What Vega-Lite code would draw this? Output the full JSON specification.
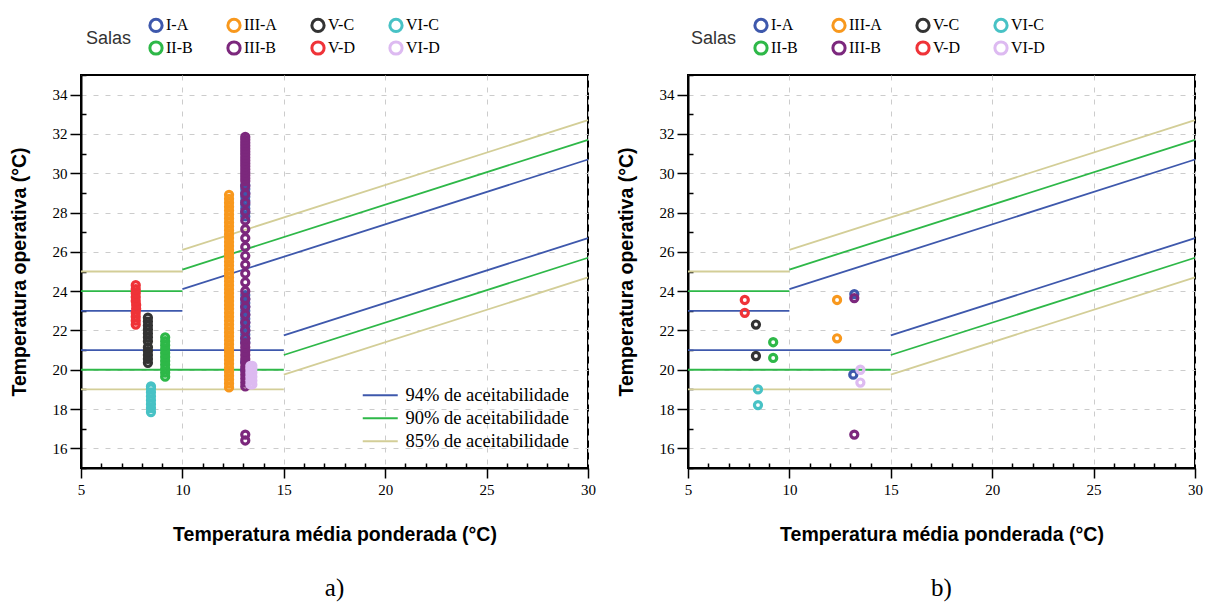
{
  "$schema": "https://vega.github.io/schema/vega-lite/v6.json",
  "padding": {"left": 8, "top": 16, "right": 5, "bottom": 0},
  "background": "white",
  "datasets": {
    "lines": [
      {"series": "94% de aceitabilidade", "seg": "94u1", "x": 5, "y": 23},
      {"series": "94% de aceitabilidade", "seg": "94u1", "x": 10, "y": 23},
      {"series": "94% de aceitabilidade", "seg": "94u2", "x": 10, "y": 24.1},
      {"series": "94% de aceitabilidade", "seg": "94u2", "x": 30, "y": 30.7},
      {"series": "94% de aceitabilidade", "seg": "94l1", "x": 5, "y": 21},
      {"series": "94% de aceitabilidade", "seg": "94l1", "x": 15, "y": 21},
      {"series": "94% de aceitabilidade", "seg": "94l2", "x": 15, "y": 21.75},
      {"series": "94% de aceitabilidade", "seg": "94l2", "x": 30, "y": 26.7},
      {"series": "90% de aceitabilidade", "seg": "90u1", "x": 5, "y": 24},
      {"series": "90% de aceitabilidade", "seg": "90u1", "x": 10, "y": 24},
      {"series": "90% de aceitabilidade", "seg": "90u2", "x": 10, "y": 25.1},
      {"series": "90% de aceitabilidade", "seg": "90u2", "x": 30, "y": 31.7},
      {"series": "90% de aceitabilidade", "seg": "90l1", "x": 5, "y": 20},
      {"series": "90% de aceitabilidade", "seg": "90l1", "x": 15, "y": 20},
      {"series": "90% de aceitabilidade", "seg": "90l2", "x": 15, "y": 20.75},
      {"series": "90% de aceitabilidade", "seg": "90l2", "x": 30, "y": 25.7},
      {"series": "85% de aceitabilidade", "seg": "85u1", "x": 5, "y": 25},
      {"series": "85% de aceitabilidade", "seg": "85u1", "x": 10, "y": 25},
      {"series": "85% de aceitabilidade", "seg": "85u2", "x": 10, "y": 26.1},
      {"series": "85% de aceitabilidade", "seg": "85u2", "x": 30, "y": 32.7},
      {"series": "85% de aceitabilidade", "seg": "85l1", "x": 5, "y": 19},
      {"series": "85% de aceitabilidade", "seg": "85l1", "x": 15, "y": 19},
      {"series": "85% de aceitabilidade", "seg": "85l2", "x": 15, "y": 19.75},
      {"series": "85% de aceitabilidade", "seg": "85l2", "x": 30, "y": 24.7}
    ],
    "pa": [
      {"sala": "I-A", "x": 13.1, "y": 20.0}, {"sala": "I-A", "x": 13.1, "y": 20.4},
      {"sala": "I-A", "x": 13.1, "y": 21.4}, {"sala": "I-A", "x": 13.1, "y": 21.6}, {"sala": "I-A", "x": 13.1, "y": 21.8},
      {"sala": "I-A", "x": 13.1, "y": 22.0}, {"sala": "I-A", "x": 13.1, "y": 22.2}, {"sala": "I-A", "x": 13.1, "y": 22.4},
      {"sala": "I-A", "x": 13.1, "y": 22.6}, {"sala": "I-A", "x": 13.1, "y": 22.8}, {"sala": "I-A", "x": 13.1, "y": 23.0},
      {"sala": "I-A", "x": 13.1, "y": 23.2}, {"sala": "I-A", "x": 13.1, "y": 23.4}, {"sala": "I-A", "x": 13.1, "y": 23.6},
      {"sala": "I-A", "x": 13.1, "y": 23.8}, {"sala": "I-A", "x": 13.1, "y": 27.8}, {"sala": "I-A", "x": 13.1, "y": 28.0},
      {"sala": "I-A", "x": 13.1, "y": 28.2}, {"sala": "I-A", "x": 13.1, "y": 28.4}, {"sala": "I-A", "x": 13.1, "y": 28.6},
      {"sala": "I-A", "x": 13.1, "y": 28.8}, {"sala": "I-A", "x": 13.1, "y": 29.0}, {"sala": "I-A", "x": 13.1, "y": 29.2},
      {"sala": "I-A", "x": 13.1, "y": 29.4},
      {"sala": "II-B", "x": 9.15, "y": 19.65}, {"sala": "II-B", "x": 9.15, "y": 19.85}, {"sala": "II-B", "x": 9.15, "y": 20.05},
      {"sala": "II-B", "x": 9.15, "y": 20.25}, {"sala": "II-B", "x": 9.15, "y": 20.45}, {"sala": "II-B", "x": 9.15, "y": 20.65},
      {"sala": "II-B", "x": 9.15, "y": 20.85}, {"sala": "II-B", "x": 9.15, "y": 21.05}, {"sala": "II-B", "x": 9.15, "y": 21.25},
      {"sala": "II-B", "x": 9.15, "y": 21.45}, {"sala": "II-B", "x": 9.15, "y": 21.65},
      {"sala": "III-A", "x": 12.3, "y": 19.1}, {"sala": "III-A", "x": 12.3, "y": 19.3}, {"sala": "III-A", "x": 12.3, "y": 19.5},
      {"sala": "III-A", "x": 12.3, "y": 19.7}, {"sala": "III-A", "x": 12.3, "y": 19.9}, {"sala": "III-A", "x": 12.3, "y": 20.1},
      {"sala": "III-A", "x": 12.3, "y": 20.3}, {"sala": "III-A", "x": 12.3, "y": 20.5}, {"sala": "III-A", "x": 12.3, "y": 20.7},
      {"sala": "III-A", "x": 12.3, "y": 20.9}, {"sala": "III-A", "x": 12.3, "y": 21.1}, {"sala": "III-A", "x": 12.3, "y": 21.3},
      {"sala": "III-A", "x": 12.3, "y": 21.5}, {"sala": "III-A", "x": 12.3, "y": 21.7}, {"sala": "III-A", "x": 12.3, "y": 21.9},
      {"sala": "III-A", "x": 12.3, "y": 22.1}, {"sala": "III-A", "x": 12.3, "y": 22.3}, {"sala": "III-A", "x": 12.3, "y": 22.5},
      {"sala": "III-A", "x": 12.3, "y": 22.7}, {"sala": "III-A", "x": 12.3, "y": 22.9}, {"sala": "III-A", "x": 12.3, "y": 23.1},
      {"sala": "III-A", "x": 12.3, "y": 23.3}, {"sala": "III-A", "x": 12.3, "y": 23.5}, {"sala": "III-A", "x": 12.3, "y": 23.7},
      {"sala": "III-A", "x": 12.3, "y": 23.9}, {"sala": "III-A", "x": 12.3, "y": 24.1}, {"sala": "III-A", "x": 12.3, "y": 24.3},
      {"sala": "III-A", "x": 12.3, "y": 24.5}, {"sala": "III-A", "x": 12.3, "y": 24.7}, {"sala": "III-A", "x": 12.3, "y": 24.9},
      {"sala": "III-A", "x": 12.3, "y": 25.1}, {"sala": "III-A", "x": 12.3, "y": 25.3}, {"sala": "III-A", "x": 12.3, "y": 25.5},
      {"sala": "III-A", "x": 12.3, "y": 25.7}, {"sala": "III-A", "x": 12.3, "y": 25.9}, {"sala": "III-A", "x": 12.3, "y": 26.1},
      {"sala": "III-A", "x": 12.3, "y": 26.3}, {"sala": "III-A", "x": 12.3, "y": 26.5}, {"sala": "III-A", "x": 12.3, "y": 26.7},
      {"sala": "III-A", "x": 12.3, "y": 26.9}, {"sala": "III-A", "x": 12.3, "y": 27.1}, {"sala": "III-A", "x": 12.3, "y": 27.3},
      {"sala": "III-A", "x": 12.3, "y": 27.5}, {"sala": "III-A", "x": 12.3, "y": 27.7}, {"sala": "III-A", "x": 12.3, "y": 27.9},
      {"sala": "III-A", "x": 12.3, "y": 28.1}, {"sala": "III-A", "x": 12.3, "y": 28.3}, {"sala": "III-A", "x": 12.3, "y": 28.5},
      {"sala": "III-A", "x": 12.3, "y": 28.7}, {"sala": "III-A", "x": 12.3, "y": 28.9},
      {"sala": "III-B", "x": 13.1, "y": 16.4}, {"sala": "III-B", "x": 13.1, "y": 16.7},
      {"sala": "III-B", "x": 13.1, "y": 19.15}, {"sala": "III-B", "x": 13.1, "y": 19.35}, {"sala": "III-B", "x": 13.1, "y": 19.55},
      {"sala": "III-B", "x": 13.1, "y": 19.75}, {"sala": "III-B", "x": 13.1, "y": 19.95}, {"sala": "III-B", "x": 13.1, "y": 20.15},
      {"sala": "III-B", "x": 13.1, "y": 20.35}, {"sala": "III-B", "x": 13.1, "y": 20.55}, {"sala": "III-B", "x": 13.1, "y": 20.75},
      {"sala": "III-B", "x": 13.1, "y": 20.95}, {"sala": "III-B", "x": 13.1, "y": 21.15}, {"sala": "III-B", "x": 13.1, "y": 21.35},
      {"sala": "III-B", "x": 13.1, "y": 21.6}, {"sala": "III-B", "x": 13.1, "y": 22.0}, {"sala": "III-B", "x": 13.1, "y": 22.4},
      {"sala": "III-B", "x": 13.1, "y": 22.8}, {"sala": "III-B", "x": 13.1, "y": 23.2}, {"sala": "III-B", "x": 13.1, "y": 23.6},
      {"sala": "III-B", "x": 13.1, "y": 24.0}, {"sala": "III-B", "x": 13.1, "y": 24.45}, {"sala": "III-B", "x": 13.1, "y": 24.9},
      {"sala": "III-B", "x": 13.1, "y": 25.35}, {"sala": "III-B", "x": 13.1, "y": 25.8}, {"sala": "III-B", "x": 13.1, "y": 26.25},
      {"sala": "III-B", "x": 13.1, "y": 26.7}, {"sala": "III-B", "x": 13.1, "y": 27.15}, {"sala": "III-B", "x": 13.1, "y": 27.6},
      {"sala": "III-B", "x": 13.1, "y": 28.05}, {"sala": "III-B", "x": 13.1, "y": 28.5}, {"sala": "III-B", "x": 13.1, "y": 28.95},
      {"sala": "III-B", "x": 13.1, "y": 29.35}, {"sala": "III-B", "x": 13.1, "y": 29.6}, {"sala": "III-B", "x": 13.1, "y": 29.75},
      {"sala": "III-B", "x": 13.1, "y": 29.9}, {"sala": "III-B", "x": 13.1, "y": 30.05}, {"sala": "III-B", "x": 13.1, "y": 30.2},
      {"sala": "III-B", "x": 13.1, "y": 30.35}, {"sala": "III-B", "x": 13.1, "y": 30.5}, {"sala": "III-B", "x": 13.1, "y": 30.65},
      {"sala": "III-B", "x": 13.1, "y": 30.8}, {"sala": "III-B", "x": 13.1, "y": 30.95}, {"sala": "III-B", "x": 13.1, "y": 31.1},
      {"sala": "III-B", "x": 13.1, "y": 31.25}, {"sala": "III-B", "x": 13.1, "y": 31.4}, {"sala": "III-B", "x": 13.1, "y": 31.55},
      {"sala": "III-B", "x": 13.1, "y": 31.7}, {"sala": "III-B", "x": 13.1, "y": 31.85},
      {"sala": "V-C", "x": 8.3, "y": 20.35}, {"sala": "V-C", "x": 8.3, "y": 20.55}, {"sala": "V-C", "x": 8.3, "y": 20.75},
      {"sala": "V-C", "x": 8.3, "y": 20.95}, {"sala": "V-C", "x": 8.3, "y": 21.15}, {"sala": "V-C", "x": 8.3, "y": 21.45},
      {"sala": "V-C", "x": 8.3, "y": 21.65}, {"sala": "V-C", "x": 8.3, "y": 21.85}, {"sala": "V-C", "x": 8.3, "y": 22.05},
      {"sala": "V-C", "x": 8.3, "y": 22.25}, {"sala": "V-C", "x": 8.3, "y": 22.45}, {"sala": "V-C", "x": 8.3, "y": 22.65},
      {"sala": "V-D", "x": 7.7, "y": 22.3}, {"sala": "V-D", "x": 7.7, "y": 22.5}, {"sala": "V-D", "x": 7.7, "y": 22.7},
      {"sala": "V-D", "x": 7.7, "y": 22.9}, {"sala": "V-D", "x": 7.72, "y": 23.1}, {"sala": "V-D", "x": 7.72, "y": 23.3},
      {"sala": "V-D", "x": 7.7, "y": 23.5}, {"sala": "V-D", "x": 7.7, "y": 23.7}, {"sala": "V-D", "x": 7.7, "y": 23.9},
      {"sala": "V-D", "x": 7.7, "y": 24.1}, {"sala": "V-D", "x": 7.7, "y": 24.3},
      {"sala": "VI-C", "x": 8.45, "y": 17.85}, {"sala": "VI-C", "x": 8.45, "y": 18.05}, {"sala": "VI-C", "x": 8.45, "y": 18.25},
      {"sala": "VI-C", "x": 8.45, "y": 18.45}, {"sala": "VI-C", "x": 8.45, "y": 18.65}, {"sala": "VI-C", "x": 8.45, "y": 18.85},
      {"sala": "VI-C", "x": 8.45, "y": 19.05}, {"sala": "VI-C", "x": 8.45, "y": 19.15},
      {"sala": "VI-D", "x": 13.35, "y": 19.25}, {"sala": "VI-D", "x": 13.35, "y": 19.45}, {"sala": "VI-D", "x": 13.35, "y": 19.65},
      {"sala": "VI-D", "x": 13.35, "y": 19.85}, {"sala": "VI-D", "x": 13.35, "y": 20.05}, {"sala": "VI-D", "x": 13.35, "y": 20.2},
      {"sala": "VI-D", "x": 13.45, "y": 19.25}, {"sala": "VI-D", "x": 13.45, "y": 19.45}, {"sala": "VI-D", "x": 13.45, "y": 19.65},
      {"sala": "VI-D", "x": 13.45, "y": 19.85}, {"sala": "VI-D", "x": 13.45, "y": 20.05}, {"sala": "VI-D", "x": 13.45, "y": 20.2}
    ],
    "pb": [
      {"sala": "I-A", "x": 13.2, "y": 23.85}, {"sala": "I-A", "x": 13.15, "y": 19.75},
      {"sala": "II-B", "x": 9.2, "y": 21.4}, {"sala": "II-B", "x": 9.2, "y": 20.6},
      {"sala": "III-A", "x": 12.35, "y": 23.55}, {"sala": "III-A", "x": 12.35, "y": 21.6},
      {"sala": "III-B", "x": 13.2, "y": 23.65}, {"sala": "III-B", "x": 13.2, "y": 16.7},
      {"sala": "V-C", "x": 8.35, "y": 22.3}, {"sala": "V-C", "x": 8.35, "y": 20.7},
      {"sala": "V-D", "x": 7.8, "y": 23.55}, {"sala": "V-D", "x": 7.8, "y": 22.9},
      {"sala": "VI-C", "x": 8.45, "y": 19.0}, {"sala": "VI-C", "x": 8.45, "y": 18.2},
      {"sala": "VI-D", "x": 13.5, "y": 20.0}, {"sala": "VI-D", "x": 13.5, "y": 19.35}
    ]
  },
  "hconcat": [
    {
      "width": 507,
      "height": 393,
      "title": {"text": "a)", "orient": "bottom", "font": "Liberation Serif", "fontSize": 25, "fontWeight": "normal", "offset": 32, "anchor": "middle", "color": "black"},
      "encoding": {
        "x": {"field": "x", "type": "quantitative", "scale": {"domain": [5, 30], "nice": false, "zero": false},
          "axis": {"title": "Temperatura média ponderada (°C)", "values": [5,6,7,8,9,10,11,12,13,14,15,16,17,18,19,20,21,22,23,24,25,26,27,28,29,30],
            "labelExpr": "datum.value % 5 === 0 ? datum.label : ''",
            "tickSize": {"condition": {"test": "datum.value % 5 === 0", "value": 10}, "value": -5},
            "gridOpacity": {"condition": {"test": "datum.value % 5 === 0", "value": 1}, "value": 0},
            "labelFlush": false, "labelOverlap": false, "labelPadding": 4, "titlePadding": 28}},
        "y": {"field": "y", "type": "quantitative", "scale": {"domain": [15, 35], "nice": false, "zero": false},
          "axis": {"title": "Temperatura operativa (°C)", "values": [15,16,17,18,19,20,21,22,23,24,25,26,27,28,29,30,31,32,33,34,35],
            "labelExpr": "datum.value % 2 === 0 ? datum.label : ''",
            "tickSize": {"condition": {"test": "datum.value % 2 === 0", "value": 11}, "value": -5},
            "gridOpacity": {"condition": {"test": "datum.value % 2 === 0", "value": 1}, "value": 0},
            "labelOverlap": false, "labelFlush": false, "labelPadding": 3, "titlePadding": 23}}
      },
      "layer": [
        {
          "data": {"name": "lines"},
          "mark": {"type": "line", "strokeWidth": 1.8},
          "encoding": {
            "stroke": {"field": "series", "type": "nominal",
              "scale": {"domain": ["94% de aceitabilidade", "90% de aceitabilidade", "85% de aceitabilidade"], "range": ["#3E58AC", "#2EB848", "#D3CE97"]},
              "legend": {"title": null, "orient": "none", "legendX": 290, "legendY": 311, "symbolType": "M-3,0H3", "symbolSize": 136, "symbolStrokeWidth": 2, "labelFont": "Liberation Serif", "labelFontSize": 18.5, "labelColor": "black", "labelOffset": 16, "labelLimit": 400, "rowPadding": 4, "padding": 0}},
            "detail": {"field": "seg"}
          }
        },
        {
          "data": {"name": "pa"},
          "mark": {"type": "point", "shape": "circle", "filled": false, "strokeWidth": 3.2, "size": 50, "opacity": 1},
          "encoding": {
            "color": {"field": "sala", "type": "nominal",
              "scale": {"domain": ["I-A", "III-A", "V-C", "VI-C", "II-B", "III-B", "V-D", "VI-D"], "range": ["#3E58AC", "#F8981D", "#333333", "#48C2C5", "#2EB848", "#7C287D", "#EF3338", "#DDBAF1"]},
              "legend": {"title": "Salas", "orient": "none", "legendX": 5, "legendY": -58, "columns": 4, "direction": "horizontal", "titleOrient": "left", "titleAnchor": "middle", "titleFont": "Liberation Sans", "titleFontSize": 18, "titleFontWeight": "normal", "titleColor": "#333333", "titlePadding": 16, "symbolType": "circle", "symbolSize": 150, "symbolStrokeWidth": 3, "labelFont": "Liberation Serif", "labelFontSize": 16, "labelColor": "black", "labelOffset": 2, "gridAlign": "each", "columnPadding": 28, "rowPadding": -3, "padding": 0}}
          }
        }
      ]
    },
    {
      "width": 507,
      "height": 393,
      "title": {"text": "b)", "orient": "bottom", "font": "Liberation Serif", "fontSize": 25, "fontWeight": "normal", "offset": 32, "anchor": "middle", "color": "black"},
      "encoding": {
        "x": {"field": "x", "type": "quantitative", "scale": {"domain": [5, 30], "nice": false, "zero": false},
          "axis": {"title": "Temperatura média ponderada (°C)", "values": [5,6,7,8,9,10,11,12,13,14,15,16,17,18,19,20,21,22,23,24,25,26,27,28,29,30],
            "labelExpr": "datum.value % 5 === 0 ? datum.label : ''",
            "tickSize": {"condition": {"test": "datum.value % 5 === 0", "value": 10}, "value": -5},
            "gridOpacity": {"condition": {"test": "datum.value % 5 === 0", "value": 1}, "value": 0},
            "labelFlush": false, "labelOverlap": false, "labelPadding": 4, "titlePadding": 28}},
        "y": {"field": "y", "type": "quantitative", "scale": {"domain": [15, 35], "nice": false, "zero": false},
          "axis": {"title": "Temperatura operativa (°C)", "values": [15,16,17,18,19,20,21,22,23,24,25,26,27,28,29,30,31,32,33,34,35],
            "labelExpr": "datum.value % 2 === 0 ? datum.label : ''",
            "tickSize": {"condition": {"test": "datum.value % 2 === 0", "value": 11}, "value": -5},
            "gridOpacity": {"condition": {"test": "datum.value % 2 === 0", "value": 1}, "value": 0},
            "labelOverlap": false, "labelFlush": false, "labelPadding": 3, "titlePadding": 23}}
      },
      "layer": [
        {
          "data": {"name": "lines"},
          "mark": {"type": "line", "strokeWidth": 1.8},
          "encoding": {
            "stroke": {"field": "series", "type": "nominal",
              "scale": {"domain": ["94% de aceitabilidade", "90% de aceitabilidade", "85% de aceitabilidade"], "range": ["#3E58AC", "#2EB848", "#D3CE97"]},
              "legend": null},
            "detail": {"field": "seg"}
          }
        },
        {
          "data": {"name": "pb"},
          "mark": {"type": "point", "shape": "circle", "filled": false, "strokeWidth": 3.2, "size": 50, "opacity": 1},
          "encoding": {
            "color": {"field": "sala", "type": "nominal",
              "scale": {"domain": ["I-A", "III-A", "V-C", "VI-C", "II-B", "III-B", "V-D", "VI-D"], "range": ["#3E58AC", "#F8981D", "#333333", "#48C2C5", "#2EB848", "#7C287D", "#EF3338", "#DDBAF1"]},
              "legend": {"title": "Salas", "orient": "none", "legendX": 3, "legendY": -58, "columns": 4, "direction": "horizontal", "titleOrient": "left", "titleAnchor": "middle", "titleFont": "Liberation Sans", "titleFontSize": 18, "titleFontWeight": "normal", "titleColor": "#333333", "titlePadding": 16, "symbolType": "circle", "symbolSize": 150, "symbolStrokeWidth": 3, "labelFont": "Liberation Serif", "labelFontSize": 16, "labelColor": "black", "labelOffset": 2, "gridAlign": "each", "columnPadding": 28, "rowPadding": -3, "padding": 0}}
          }
        }
      ]
    }
  ],
  "spacing": 18,
  "resolve": {"scale": {"color": "independent", "stroke": "independent"}, "legend": {"color": "independent", "stroke": "independent"}},
  "config": {
    "view": {"stroke": "black", "strokeWidth": 2},
    "axis": {
      "domainColor": "black", "domainWidth": 2,
      "tickColor": "black", "tickWidth": 1.5,
      "gridColor": "#cccccc", "gridDash": [5, 7], "gridWidth": 1,
      "labelFont": "Liberation Serif", "labelFontSize": 15, "labelColor": "black",
      "titleFont": "Liberation Sans", "titleFontSize": 19.5, "titleFontWeight": "bold", "titleColor": "black"
    }
  }
}
